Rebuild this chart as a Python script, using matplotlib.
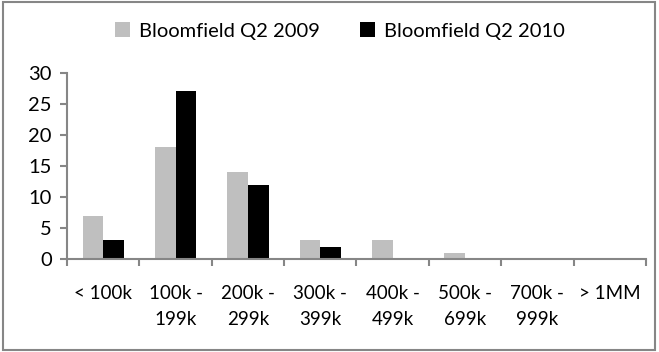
import matplotlib.pyplot as plt
from matplotlib.patches import Rectangle
import numpy as np

plt.rcParams['font.family'] = ['Lato', 'DejaVu Sans']

categories = ["< 100k", "100k -\n199k", "200k -\n299k", "300k -\n399k",
              "400k -\n499k", "500k -\n699k", "700k -\n999k", "> 1MM"]
q2_2009 = [7, 18, 14, 3, 3, 1, 0, 0]
q2_2010 = [3, 27, 12, 2, 0, 0, 0, 0]

axis_grey = "#868686"

fig = plt.figure(figsize=(6.59, 3.52), dpi=100)
ax = fig.add_axes([0.1017, 0.264, 0.8785, 0.529])

x = np.arange(len(categories))
w = 0.285
ax.bar(x - w / 2, q2_2009, w, color="#bfbfbf", label="Bloomfield Q2 2009")
ax.bar(x + w / 2, q2_2010, w, color="black", label="Bloomfield Q2 2010")

ax.set_xlim(-0.5, len(categories) - 0.5)
ax.set_ylim(0, 30)
ax.set_yticks(range(0, 31, 5))

# labels centred under each group, tick marks on the group boundaries
ax.set_xticks(x)
ax.set_xticklabels(categories, fontsize=13.5, linespacing=1.6)
ax.set_xticks(np.arange(-0.5, len(categories)), minor=True)
ax.tick_params(axis="x", which="major", length=0, pad=19)
ax.tick_params(axis="x", which="minor", length=5, width=1.5, color=axis_grey, direction="out")
ax.tick_params(axis="y", length=5, width=1.5, color=axis_grey, labelsize=14.5, pad=6)

for side in ["top", "right"]:
    ax.spines[side].set_visible(False)
for side in ["left", "bottom"]:
    ax.spines[side].set_color(axis_grey)
    ax.spines[side].set_linewidth(1.5)

fig.legend(loc="center", bbox_to_anchor=(0.516, 0.912),
           ncol=2, frameon=False, fontsize=14.5, handlelength=0.75, handleheight=0.75,
           handletextpad=0.45, columnspacing=2.0)

fig.patches.append(Rectangle((0.004, 0.006), 0.99, 0.988, transform=fig.transFigure,
                             fill=False, edgecolor=axis_grey, linewidth=1.5))

fig.savefig("out.png", dpi=100)
